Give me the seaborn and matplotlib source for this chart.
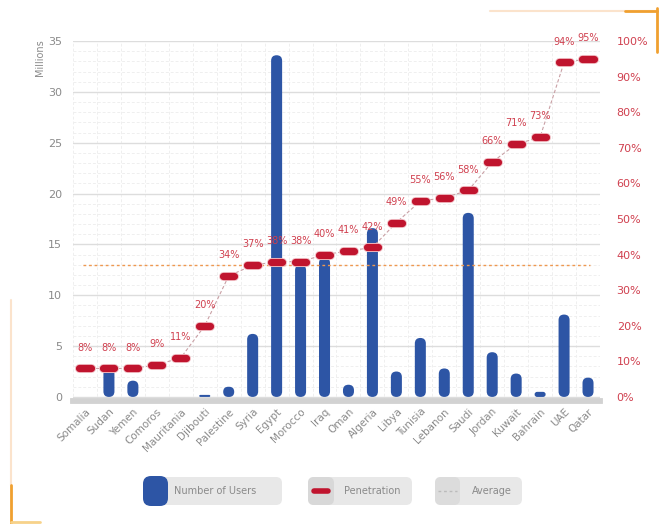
import numpy as np
import pandas as pd
import matplotlib
matplotlib.use("Agg")
import matplotlib.pyplot as plt
import seaborn as sns
from matplotlib.patches import FancyBboxPatch
from matplotlib.markers import MarkerStyle
from matplotlib.lines import Line2D
import matplotlib.patheffects as pe

countries = ["Somalia", "Sudan", "Yemen", "Comoros", "Mauritania", "Djibouti", "Palestine",
             "Syria", "Egypt", "Morocco", "Iraq", "Oman", "Algeria", "Libya", "Tunisia",
             "Lebanon", "Saudi", "Jordan", "Kuwait", "Bahrain", "UAE", "Qatar"]
users_millions = [0.0, 2.8, 1.6, 0.0, 0.0, 0.2, 1.0, 6.2, 33.6, 13.0, 13.7, 1.2, 16.6,
                  2.5, 5.8, 2.8, 18.1, 4.4, 2.3, 0.5, 8.1, 1.9]
penetration_pct = [8, 8, 8, 9, 11, 20, 34, 37, 38, 38, 40, 41, 42, 49, 55, 56, 58, 66,
                   71, 73, 94, 95]
average_pct = 37
left_ticks = [0, 5, 10, 15, 20, 25, 30, 35]
right_ticks = [0, 10, 20, 30, 40, 50, 60, 70, 80, 90, 100]
legend_labels = ["Number of Users", "Penetration", "Average"]

BLUE = "#2d55a5"
RED = "#c0142e"
RED_TXT = "#d0404f"
GREY_TXT = "#8a8a8a"

sns.set_theme(style="white")
plt.rcParams["font.family"] = ["DejaVu Sans"]

W, H = 663, 524
fig = plt.figure(figsize=(W / 100, H / 100), dpi=100)
fig.patch.set_facecolor("white")

ax = fig.add_axes([73 / W, 1 - 401 / H, (600 - 73) / W, (401 - 41) / H])
ymin = -0.4
ax.set_ylim(ymin, 35)
n = len(countries)

df = pd.DataFrame({"country": countries, "users": users_millions,
                   "pen": np.array(penetration_pct) / 100.0})

sns.barplot(data=df, x="country", y="users", color=BLUE, width=0.46,
            saturation=1, ax=ax, zorder=3)
ax.set_xlim(-0.5, n - 0.5)

# round bar ends
xpx = 527 / n
ypx = 360 / (35 - ymin)
aspect = (1 / ypx) / (1 / xpx)
for p in list(ax.patches):
    x, y = p.get_x(), p.get_y()
    w, h = p.get_width(), p.get_height()
    p.remove()
    if h <= 0:
        continue
    r = min(w / 2, h / (2 * aspect))
    fb = FancyBboxPatch((x, y), w, h,
                        boxstyle=f"round,pad=0,rounding_size={r}",
                        mutation_aspect=aspect, facecolor=BLUE,
                        edgecolor="none", zorder=3)
    ax.add_patch(fb)

ax.set_yticks(left_ticks)
ax.set_yticks(np.arange(0, 35, 1), minor=True)
ax.set_xticks(np.arange(-0.5, n, 0.5), minor=True)
ax.grid(which="major", axis="y", color="#dddddd", lw=1.0, zorder=0)
ax.grid(which="minor", axis="y", color="#efefef", lw=0.7, ls=(0, (3, 2)), zorder=0)
ax.grid(which="minor", axis="x", color="#efefef", lw=0.7, ls=(0, (3, 2)), zorder=0)
ax.grid(which="major", axis="x", visible=False)
ax.set_axisbelow(True)

for s in ["top", "right", "left"]:
    ax.spines[s].set_visible(False)
ax.spines["bottom"].set_color("#d2d2d2")
ax.spines["bottom"].set_linewidth(4.2)

ax.set_xlabel("")
ax.set_ylabel("")
ax.tick_params(axis="y", which="both", length=0, labelsize=8, labelcolor=GREY_TXT, pad=8)
ax.tick_params(axis="x", which="both", length=0, labelsize=7.5, labelcolor=GREY_TXT, pad=4)
ax.set_xticks(range(n))
ax.set_xticklabels(countries, rotation=45, ha="right", rotation_mode="anchor")

fig.text(40 / W, 1 - 58 / H, "Millions", rotation=90, fontsize=7, color=GREY_TXT,
         ha="center", va="center")

ax2 = ax.twinx()
ax2.set_ylim(ymin / 35, 1.0)
ax2.set_yticks([t / 100 for t in right_ticks])
ax2.set_yticklabels([f"{t}%" for t in right_ticks])
ax2.tick_params(axis="y", length=0, labelsize=8, labelcolor=RED_TXT, pad=12)
for s in ["top", "right", "left", "bottom"]:
    ax2.spines[s].set_visible(False)
ax2.grid(False)

xs = np.arange(n)
sns.lineplot(x=xs, y=df["pen"].values, ax=ax2, color="#c9a0a5", lw=0.8,
             linestyle=(0, (3, 2)), zorder=4)
ax2.hlines(average_pct / 100, -0.1, n - 0.9, colors="#ee9850", lw=1.0,
           linestyles=(0, (2, 2)), zorder=2)
mk = MarkerStyle("_", capstyle="round")
sns.lineplot(x=xs, y=df["pen"].values, ax=ax2, color=RED, linestyle="",
             marker=mk, markersize=8, markeredgewidth=5.2, markeredgecolor=RED,
             zorder=5, path_effects=[pe.Stroke(linewidth=6.5, foreground="#f2c0c6"), pe.Normal()])
for xi, v in zip(xs, penetration_pct):
    ax2.annotate(f"{v}%", (xi, v / 100), xytext=(0, 15), textcoords="offset points",
                 ha="center", va="center", fontsize=7, color=RED_TXT, zorder=6)
ax2.set_xlim(-0.5, n - 0.5)

ov = fig.add_axes([0, 0, 1, 1], zorder=10)
ov.set_xlim(0, W)
ov.set_ylim(H, 0)
ov.axis("off")
ov.patch.set_alpha(0)

def rbox(x0, y0, x1, y1, color, r=6):
    ov.add_patch(FancyBboxPatch((x0, y0), x1 - x0, y1 - y0,
                                boxstyle=f"round,pad=0,rounding_size={r}",
                                facecolor=color, edgecolor="none"))

rbox(143, 477, 282, 505, "#e8e8e8")
rbox(143, 476, 168, 506, BLUE, r=8)
ov.text(215, 491, legend_labels[0], fontsize=7, color=GREY_TXT, ha="center", va="center")
rbox(308, 477, 412, 505, "#e8e8e8")
rbox(308, 477, 334, 505, "#d8d8d8")
ov.add_line(Line2D([314, 328], [491, 491], color=RED, lw=4, solid_capstyle="round"))
ov.text(372, 491, legend_labels[1], fontsize=7, color=GREY_TXT, ha="center", va="center")
rbox(435, 477, 522, 505, "#e8e8e8")
rbox(435, 477, 460, 505, "#dcdcdc")
ov.add_line(Line2D([438, 457], [491, 491], color="#bbbbbb", lw=1, ls=(0, (2, 2))))
ov.text(492, 491, legend_labels[2], fontsize=7, color=GREY_TXT, ha="center", va="center")

ov.add_line(Line2D([490, 657], [11, 11], color="#fbe3cc", lw=1.5))
ov.add_line(Line2D([625, 657], [11, 11], color="#f0a030", lw=2))
ov.add_line(Line2D([657, 657], [8, 52], color="#f0a030", lw=2))
ov.add_line(Line2D([11, 11], [300, 485], color="#fbe3cc", lw=1.5))
ov.add_line(Line2D([11, 11], [485, 524], color="#f0a030", lw=2))
ov.add_line(Line2D([11, 40], [522, 522], color="#f7d28a", lw=2))

fig.savefig("out.png", dpi=100, facecolor="white")
